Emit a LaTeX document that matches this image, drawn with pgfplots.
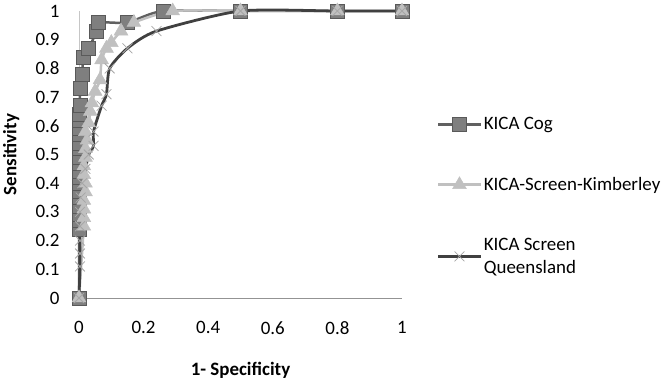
\documentclass[border=0pt]{standalone}
\usepackage{pgfplots}
\pgfplotsset{compat=1.18}
\usepackage{fontspec}
\setmainfont{Carlito}
\definecolor{cogline}{HTML}{606060}
\definecolor{cogfill}{HTML}{7F7F7F}
\definecolor{cogdraw}{HTML}{595959}
\definecolor{kimline}{HTML}{C0C0C0}
\definecolor{qldline}{HTML}{404040}
\definecolor{qldmark}{HTML}{A6A6A6}
\begin{document}
\begin{tikzpicture}
\path[use as bounding box] (0,0) rectangle (668bp,383bp);
\begin{axis}[
  at={(79bp,85bp)}, anchor=south west,
  scale only axis, width=323bp, height=287bp,
  xmin=0, xmax=1, ymin=0, ymax=1,
  clip=false,
  axis lines=left,
  x axis line style={-, draw=gray!85, line width=0.8pt},
  y axis line style={-, draw=gray!45, line width=0.5pt},
  major tick length=0pt,
  xtick={0,0.2,...,1}, ytick={0,0.1,...,1},
  font=\fontsize{19}{23}\selectfont,
  /pgf/number format/assume math mode=true,
  xticklabel style={yshift=-20bp},
  yticklabel style={xshift=-16bp},
  xticklabel={\pgfmathprintnumber[fixed,precision=1]{\tick}},
  yticklabel={\pgfmathprintnumber[fixed,precision=1]{\tick}},
  xlabel={\textbf{1- Specificity}},
  ylabel={\textbf{Sensitivity}},
  xlabel style={at={(axis description cs:0.5,-0.252)}, anchor=center},
  ylabel style={at={(axis description cs:-0.21,0.5)}, anchor=center, rotate=0},
  legend cell align=left,
  legend style={draw=none, fill=none, at={(axis description cs:1.108,0.636)}, anchor=north west,
    inner sep=0pt, row sep=42bp, cells={align=left}, font=\fontsize{19}{23}\selectfont},
  legend image code/.code={\draw[mark repeat=2,mark phase=2] plot coordinates {(0bp,0bp) (21bp,0bp) (42bp,0bp)};},
]
\addplot[color=cogline, line width=2.5pt, smooth, tension=0.4,
  mark=square*, mark size=7pt, mark options={fill=cogfill, draw=cogdraw, line width=0.6pt}]
coordinates {
(0,0)(0,0.24)(0,0.27)(0,0.29)(0,0.32)(0,0.35)(0,0.37)(0,0.40)(0,0.42)(0,0.44)(0,0.47)
(0,0.49)(0,0.52)(0,0.54)(0,0.57)(0,0.59)(0,0.62)(0,0.64)(0.003,0.67)(0.003,0.73)
(0.01,0.78)(0.013,0.84)(0.03,0.87)(0.055,0.93)(0.06,0.96)(0.15,0.96)(0.26,1)(0.5,1)(0.8,1)(1,1)
};
\addlegendentry{KICA Cog}
\addplot[color=kimline, line width=2.5pt, smooth, tension=0.4,
  mark=triangle*, mark size=8pt, mark options={fill=kimline, draw=kimline, line width=0.5pt}]
coordinates {
(0,0)(0.015,0.25)(0.015,0.28)(0.015,0.31)(0.015,0.34)(0.02,0.37)(0.02,0.40)(0.015,0.43)
(0.015,0.46)(0.02,0.49)(0.02,0.52)(0.025,0.55)(0.02,0.58)(0.03,0.61)(0.035,0.65)(0.04,0.68)
(0.05,0.72)(0.065,0.76)(0.07,0.83)(0.085,0.87)(0.1,0.89)(0.13,0.93)(0.17,0.96)(0.29,1)(0.5,1)(0.8,1)(1,1)
};
\addlegendentry{KICA-Screen-Kimberley}
\addplot[color=qldline, line width=2.8pt, smooth, tension=0.4,
  mark=x, mark size=7pt, mark options={draw=qldmark, line width=0.8pt}]
coordinates {
(0,0)(0.003,0.11)(0.003,0.155)(0.003,0.2)(0.003,0.25)(0.003,0.3)(0.005,0.35)(0.01,0.4)
(0.02,0.45)(0.03,0.5)(0.045,0.53)(0.045,0.58)(0.07,0.67)(0.085,0.71)(0.095,0.8)(0.15,0.87)
(0.24,0.93)(0.5,1)(0.8,1)(1,1)
};
\addlegendentry{KICA Screen\\Queensland}
\end{axis}
\end{tikzpicture}
\end{document}
